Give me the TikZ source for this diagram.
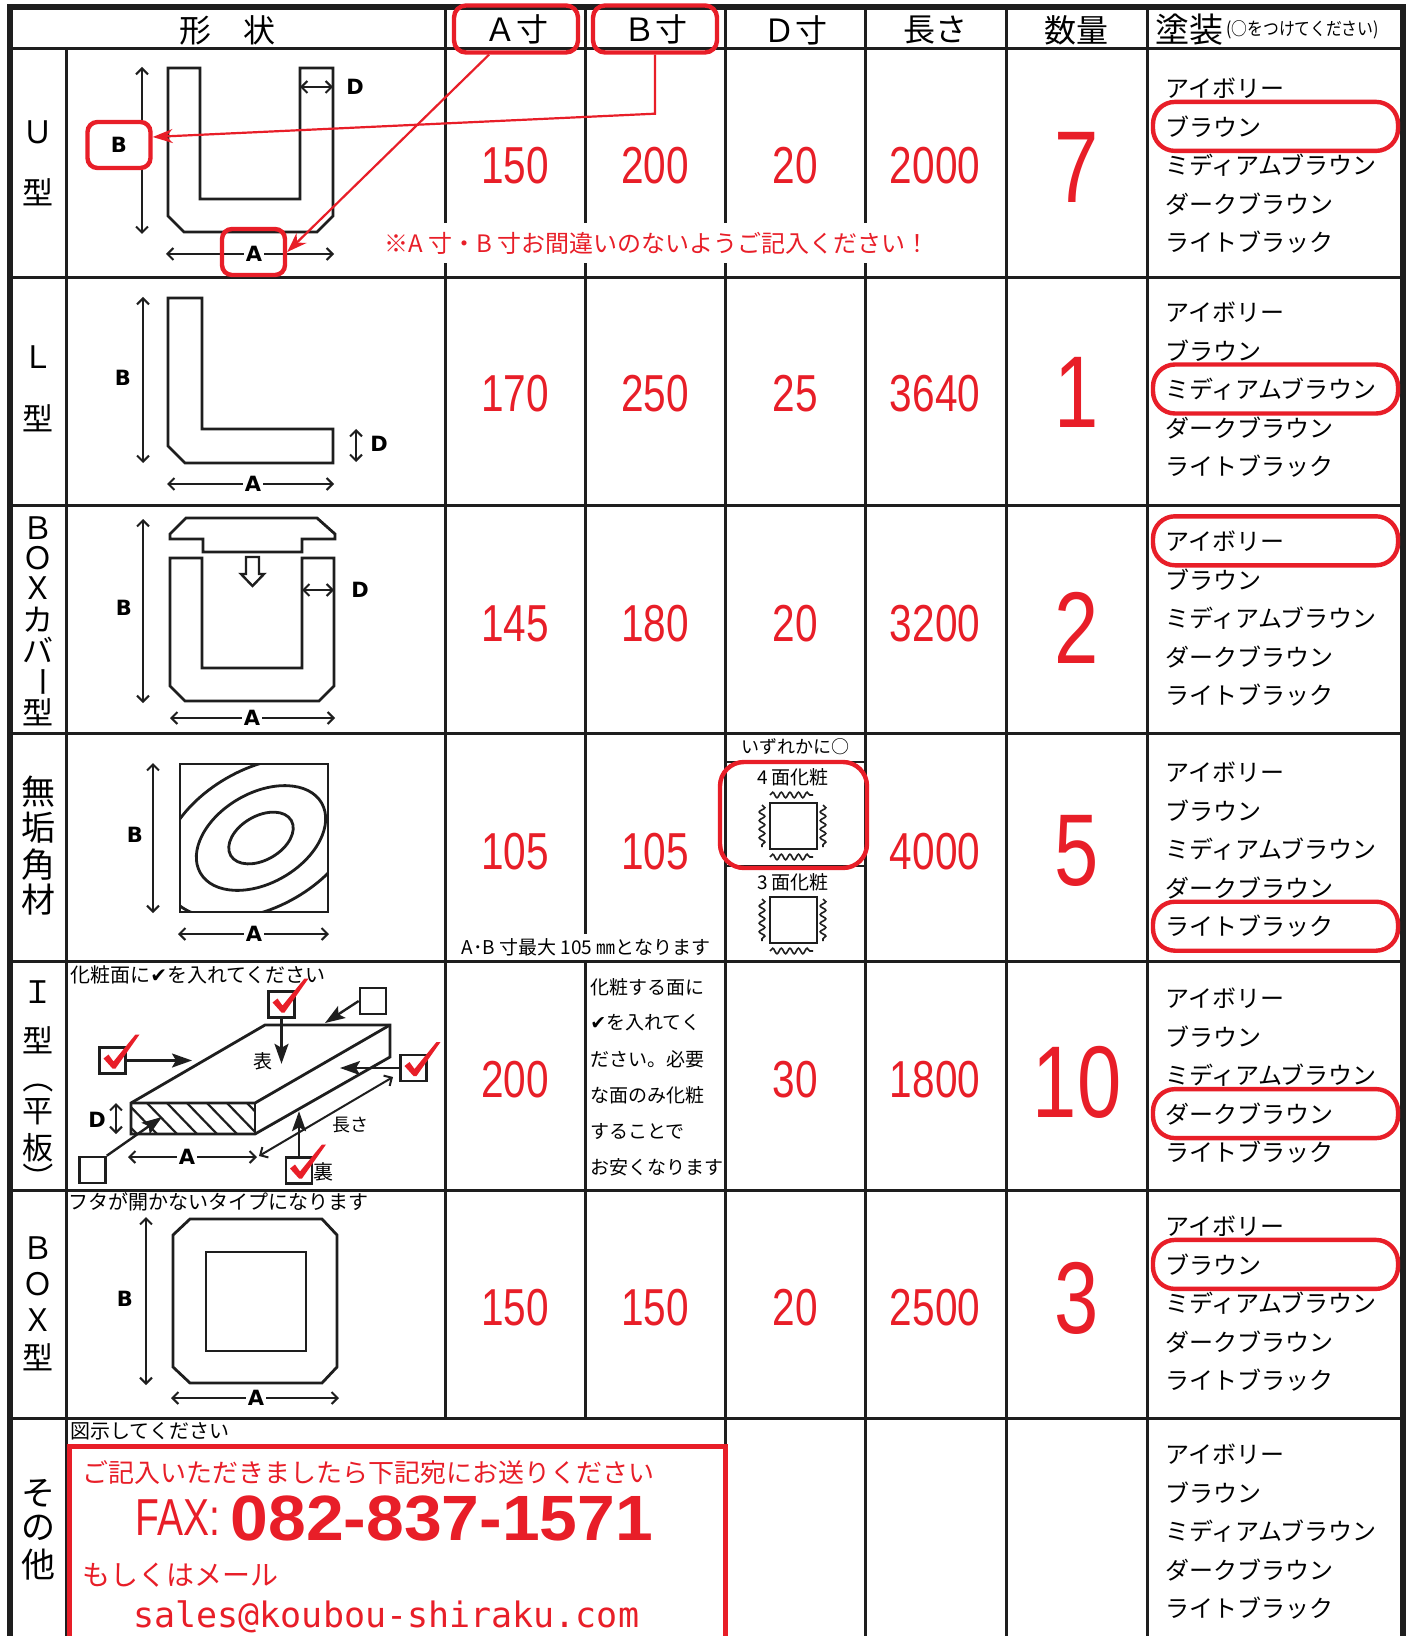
\documentclass[tikz,border=0pt]{standalone}
\usepackage{fontspec}
\setmainfont{Noto Sans CJK JP}
\newfontfamily\numfont[FakeStretch=0.78]{Liberation Sans}
\newfontfamily\faxfont[FakeStretch=0.75]{Liberation Sans}
\newfontfamily\faxnumfont[FakeStretch=1.06]{Liberation Sans}
\newfontfamily\lblfont{DejaVu Sans}
\newfontfamily\symfont{DejaVu Sans}
\newfontfamily\mailfont{DejaVu Sans Mono}
\newfontfamily\notefont[FakeStretch=0.88]{Noto Sans CJK JP}
\usetikzlibrary{arrows.meta, calc, decorations.pathmorphing, positioning}
\definecolor{redink}{RGB}{232,30,40}
\definecolor{ink}{RGB}{30,30,30}
\newcommand{\fsz}[1]{\fontsize{#1}{#1}\selectfont}
\newcommand{\tickmark}{{\symfont ✔}}

\tikzset{
  tablerule/.style={draw=ink, line width=1.5pt},
  framerule/.style={draw=ink, line width=2.75pt},
  outline/.style={draw=ink, line width=1.4pt, line join=miter},
  dimline/.style={draw=ink, line width=1pt,
    {Straight Barb[length=3pt,width=6pt]}-{Straight Barb[length=3pt,width=6pt]}},
  dimlbl/.style={fill=white, inner sep=1pt, font=\lblfont\bfseries\fsz{10.5}},
  markbox/.style={draw=redink, line width=2.2pt, rounded corners=5pt,
    minimum width=31.5pt, minimum height=23pt, inner sep=0pt},
  hdrpick/.style={draw=redink, line width=2.2pt, rounded corners=6pt,
    minimum width=62pt, minimum height=23.5pt},
  pick/.style={draw=redink, line width=2.2pt, rounded corners=11pt,
    minimum width=122.5pt, minimum height=24.5pt, inner sep=0pt},
  hdr/.style={inner sep=0pt, font=\fsz{16}},
  side/.style={inner sep=0pt, font=\fsz{15.5}},
  sidebig/.style={inner sep=0pt, font=\fsz{17}},
  small/.style={inner sep=0pt, font=\fsz{9.5}},
  num/.style={text=redink, inner sep=0pt, font=\numfont\fsz{26}},
  qty/.style={text=redink, inner sep=0pt, font=\numfont\fsz{51}},
  paint/.style={anchor=west, inner sep=0pt, font=\fsz{12}},
  pointer/.style={draw=redink, line width=1.1pt, -{Stealth[length=10pt,width=7pt]}},
  fatarrow/.style={draw=ink, line width=1.2pt, -{Stealth[length=10pt,width=7pt,inset=2pt]}},
  tickbox/.style={draw=ink, line width=1.3pt, minimum size=13pt, inner sep=0pt},
  wave/.style={draw=ink, line width=0.8pt, decorate,
    decoration={snake, amplitude=1.4pt, segment length=4.3pt}},
}

% red check mark over a tick box
\newcommand{\redtick}[1]{%
  \fill[redink, shift={(#1)}] (-9,-2) -- (-4,-6) -- (1,1) -- (23,-26) -- (27,-26) -- (3,8) -- (0,8) -- cycle;}

% paint list of one row: name, y of middle line, picked index (-1 for none)
\newcommand{\paintcol}[3]{%
  \foreach \pname [count=\pk from 0] in {アイボリー,ブラウン,ミディアムブラウン,ダークブラウン,ライトブラック}
    \node[paint] (#1-paint\pk) at (1165,{#2+(\pk-2)*38.6}) {\pname};
  \ifnum#3>-1
    \node[pick] (#1-pick) at (1275.5,{#2+(#3-2)*38.6}) {};
  \fi
}

\begin{document}
\begin{tikzpicture}[x=0.5pt, y=-0.5pt]
  \useasboundingbox (0,0) rectangle (1411,1636);
  \clip (0,0) rectangle (1411,1636);
  \fill[white] (0,0) rectangle (1411,1636);

  % table
  \foreach \yy in {49,277.2,505.4,733.6,961.8,1190,1418.2}
    \draw[tablerule] (10,\yy) -- (1403,\yy);
  \draw[tablerule] (66,49) -- (66,1640);
  \foreach \xx in {445,585}
    \draw[tablerule] (\xx,7) -- (\xx,1418.2);
  \foreach \xx in {725,865,1006,1147}
    \draw[tablerule] (\xx,7) -- (\xx,1640);
  \draw[framerule] (10,1640) -- (10,7) -- (1403,7) -- (1403,1640);

  % header
  \node[hdr] (hShape) at (227,30) {形　状};
  \node[hdr, hdrpick] (hA) at (516,29) {Ａ寸};
  \node[hdr, hdrpick] (hB) at (655,29) {Ｂ寸};
  \node[hdr] (hD) at (795,30) {Ｄ寸};
  \node[hdr] (hLen) at (935,30) {長さ};
  \node[hdr] (hQty) at (1076,30) {数量};
  \node[hdr, anchor=west, font=\fsz{17}] (hPaint) at (1155,30) {塗装};
  \node[small, font=\notefont\fsz{9}, right=1pt of hPaint] (hPaintNote) {(○をつけてください)};

  % row labels
  \foreach \ch/\yy in {Ｕ/132,型/192,Ｌ/357,型/418,Ｂ/528,Ｏ/558,Ｘ/588,カ/620,バ/650,型/712,
                       Ｉ/992,型/1040,平/1112,板/1148,Ｂ/1248,Ｏ/1284,Ｘ/1320,型/1357}
    \node[side] (side\yy) at (38,\yy) {\ch};
  \node[side, rotate=-90] (side682) at (38,682) {ー};
  \node[side, rotate=-90] (side1080) at (38,1078) {（};
  \node[side, rotate=-90] (side1178) at (38,1178) {）};
  \foreach \ch/\yy in {無/792,垢/828,角/865,材/900,そ/1493,の/1528,他/1565}
    \node[sidebig] (side\yy) at (38,\yy) {\ch};

  % U shape
  \draw[outline] (200,68) -- (168,68) -- (168,216) -- (184,232) -- (317,232) -- (333,216)
    -- (333,68) -- (300,68) -- (300,199) -- (200,199) -- cycle;
  \draw[dimline] (142,67) -- (142,234);
  \draw[dimline] (300,87) -- (333,87);
  \draw[dimline] (166,254) -- (334,254);
  \node[dimlbl] (uD) at (355,87) {D};
  \node[dimlbl] (uA) at (254,254) {A};
  \node[markbox] (uAbox) at (253.5,252) {};
  \node[markbox, fill=white, font=\lblfont\bfseries\fsz{10.5}] (uBbox) at (119,145) {B};
  \draw[pointer] ($(hA.south)+(-27,0)$) -- (uAbox.east);
  \draw[pointer] (hB.south) -- ++(0,59) -- ($(uBbox.east)+(0,-8)$);
  \node[fill=white, inner xsep=1pt, inner ysep=0pt, minimum height=20pt, text=redink,
    font=\fsz{12}] (warn) at (657,243) {※A 寸・B 寸お間違いのないようご記入ください！};

  % L shape
  \draw[outline] (168,298) -- (202,298) -- (202,429) -- (333,429) -- (333,463) -- (185,463)
    -- (168,446) -- cycle;
  \draw[dimline] (143,297) -- (143,463);
  \draw[dimline] (356,429) -- (356,462);
  \draw[dimline] (167,484) -- (334,484);
  \node[dimlbl] (lB) at (123,378) {B};
  \node[dimlbl] (lD) at (379,444) {D};
  \node[dimlbl] (lA) at (253,484) {A};

  % BOX cover shape
  \draw[outline] (186,518) -- (317,518) -- (335,534) -- (335,539) -- (302,539) -- (302,552)
    -- (203,552) -- (203,539) -- (170,539) -- (170,534) -- cycle;
  \draw[outline] (202,558) -- (170,558) -- (170,686) -- (185,701) -- (319,701) -- (334,686)
    -- (334,558) -- (302,558) -- (302,668) -- (202,668) -- cycle;
  \draw[draw=ink, line width=1.2pt, line join=miter] (246,557) -- (259,557) -- (259,574)
    -- (264,574) -- (252.5,586) -- (241,574) -- (246,574) -- cycle;
  \draw[dimline] (143,519) -- (143,703);
  \draw[dimline] (302,590) -- (334,590);
  \draw[dimline] (170,718) -- (335,718);
  \node[dimlbl] (cB) at (124,608) {B};
  \node[dimlbl] (cD) at (360,590) {D};
  \node[dimlbl] (cA) at (252,718) {A};

  % solid square timber
  \begin{scope}
    \clip (180,764) rectangle (328,912);
    \foreach \ra/\rb in {35/22,70/45,108/69}
      \draw[outline, rotate around={30:(261,838)}] (261,838) ellipse [x radius=\ra, y radius=\rb];
  \end{scope}
  \draw[outline] (180,764) rectangle (328,912);
  \draw[dimline] (153,763) -- (153,913);
  \draw[dimline] (178,934) -- (329,934);
  \node[dimlbl] (mB) at (135,835) {B};
  \node[dimlbl] (mA) at (254,934) {A};
  \node[small, fill=white, inner xsep=1pt, minimum height=13pt] (maxNote) at (586,947)
    {A･B 寸最大 105 ㎜となります};

  % finish choice in the D cell
  \draw[draw=ink, line width=1.2pt] (725,762) -- (865,762);
  \draw[draw=ink, line width=1.2pt] (725,866) -- (865,866);
  \node[small, font=\fsz{9}] (anyOne) at (795,747) {いずれかに○};
  \node[small] (fourFace) at (793,777) {4 面化粧};
  \node[small] (threeFace) at (793,882) {3 面化粧};
  \draw[outline] (770,803) rectangle (817,849);
  \draw[outline] (770,897) rectangle (817,943);
  \draw[wave] (770,795) -- (813,795);
  \draw[wave] (770,857) -- (813,857);
  \draw[wave] (762,805) -- (762,847);
  \draw[wave] (823,805) -- (823,847);
  \draw[wave] (762,899) -- (762,941);
  \draw[wave] (823,899) -- (823,941);
  \draw[wave] (770,951) -- (813,951);
  \draw[draw=redink, line width=2.2pt, rounded corners=12pt] (720,762) rectangle (867,868);

  % flat board
  \node[small, anchor=west, font=\fsz{10}] (faceNote) at (70,975) {化粧面に\tickmark を入れてください};
  \begin{scope}
    \clip (131,1103) rectangle (255,1134);
    \foreach \hx in {107,127,...,247}
      \draw[draw=ink, line width=1.1pt] (\hx,1103) -- ++(30,31);
  \end{scope}
  \draw[outline] (131,1103) -- (265,1025) -- (390,1025) -- (390,1057) -- (255,1134)
    -- (131,1134) -- cycle;
  \draw[outline] (131,1103) -- (255,1103) -- (390,1025);
  \draw[outline] (255,1103) -- (255,1134);
  \node[small] (faceTop) at (263,1061) {表};
  \node[small, font=\fsz{9}] (lenLbl) at (350,1125) {長さ};
  \node[small, font=\fsz{10}] (faceBack) at (323,1172) {裏};
  \draw[dimline] (116,1103) -- (116,1134);
  \draw[dimline] (128,1157) -- (257,1157);
  \draw[dimline] (259,1156) -- (393,1077);
  \node[dimlbl] (iD) at (97,1120) {D};
  \node[dimlbl] (iA) at (187,1157) {A};
  \node[tickbox] (b1) at (281.5,1004.5) {};
  \node[tickbox] (b2) at (373,1001) {};
  \node[tickbox] (b3) at (112.5,1060.5) {};
  \node[tickbox] (b4) at (413.5,1068) {};
  \node[tickbox] (b5) at (92.5,1170) {};
  \node[tickbox] (b6) at (299,1170.5) {};
  \draw[fatarrow] (b1.south) -- ++(0,45);
  \draw[fatarrow] (b2.west) -- (325,1023);
  \draw[fatarrow] (b3.east) -- (192,1060.5);
  \draw[fatarrow] (b4.west) -- (340,1068);
  \draw[fatarrow] (b5.north east) -- (162,1117);
  \draw[fatarrow] (b6.north) -- ++(0,-45);
  \redtick{b1.center}
  \redtick{b3.center}
  \redtick{b4.center}
  \redtick{b6.center}
  \foreach \ln [count=\lk from 0] in {化粧する面に,\tickmark を入れてく,ださい。必要,な面のみ化粧,することで,お安くなります}
    \node[small, anchor=west] (howTo\lk) at (590,{987+36*\lk}) {\ln};

  % BOX shape
  \node[small, anchor=west, font=\fsz{10}] (lidNote) at (68,1202) {フタが開かないタイプになります};
  \draw[outline] (190,1219) -- (322,1219) -- (337,1235) -- (337,1367) -- (322,1383)
    -- (190,1383) -- (173,1367) -- (173,1235) -- cycle;
  \draw[outline] (206,1252) rectangle (306,1351);
  \draw[dimline] (146,1217) -- (146,1385);
  \draw[dimline] (171,1398) -- (339,1398);
  \node[dimlbl] (xB) at (125,1299) {B};
  \node[dimlbl] (xA) at (256,1398) {A};

  % other
  \node[small, anchor=west, font=\fsz{10}] (drawNote) at (70,1431) {図示してください};
  \draw[draw=redink, line width=2.5pt] (69,1446) rectangle (725,1700);
  \node[anchor=west, inner sep=0pt, text=redink, font=\fsz{13}] (sendNote) at (82,1473)
    {ご記入いただきましたら下記宛にお送りください};
  \node[anchor=west, inner sep=0pt, text=redink, font=\faxfont\fsz{26}] (faxLbl) at (135,1518) {FAX:};
  \node[right=5pt of faxLbl, inner sep=0pt, text=redink, font=\faxnumfont\bfseries\fsz{32}] (faxNum)
    {082-837-1571};
  \node[anchor=west, inner sep=0pt, text=redink, font=\fsz{14}] (mailNote) at (82,1575) {もしくはメール};
  \node[anchor=west, inner sep=0pt, text=redink, font=\mailfont\fsz{17.5}] (mail) at (133,1617)
    {sales@koubou-shiraku.com};

  % values
  \foreach \yy/\va/\vb/\vd/\vl in {166/150/200/20/2000,394/170/250/25/3640,624/145/180/20/3200,
                                   852/105/105//4000,1080/200//30/1800,1308/150/150/20/2500}{
    \node[num] (a-\yy) at (515,\yy) {\va};
    \node[num] (b-\yy) at (655,\yy) {\vb};
    \node[num] (d-\yy) at (795,\yy) {\vd};
    \node[num] (len-\yy) at (935,\yy) {\vl};
  }
  \foreach \yy/\vq in {167/7,392/1,628/2,851/5,1082/10,1298/3}
    \node[qty] (qty-\yy) at (1077,\yy) {\vq};

  % paint
  \paintcol{u}{165}{1}
  \paintcol{l}{389}{2}
  \paintcol{bc}{618}{0}
  \paintcol{m}{849}{4}
  \paintcol{i}{1075}{3}
  \paintcol{x}{1303}{1}
  \paintcol{o}{1531}{-1}
\end{tikzpicture}
\end{document}
